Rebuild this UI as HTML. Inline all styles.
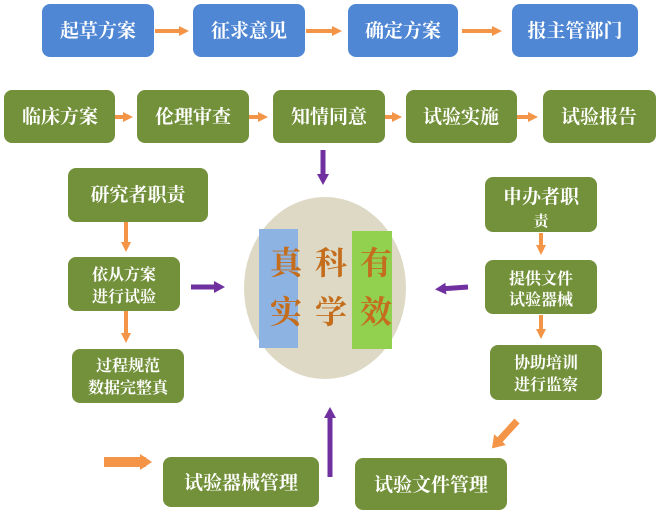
<!DOCTYPE html>
<html><head><meta charset="utf-8"><style>
body{margin:0;background:#fff;}
svg text{font-family:"Liberation Serif","Noto Serif CJK SC","Noto Sans CJK SC",serif;}
</style></head><body>
<svg width="661" height="515" xmlns="http://www.w3.org/2000/svg">
<defs>
<marker id="o" markerWidth="12" markerHeight="12" refX="6" refY="6" orient="auto" markerUnits="userSpaceOnUse"><path d="M0,1 L10,6 L0,11 z" fill="#f39447"/></marker>
<marker id="ob" markerWidth="20" markerHeight="20" refX="6" refY="10" orient="auto" markerUnits="userSpaceOnUse"><path d="M0,2 L12,10 L0,18 z" fill="#f39447"/></marker>
<marker id="p" markerWidth="14" markerHeight="14" refX="6" refY="7" orient="auto" markerUnits="userSpaceOnUse"><path d="M0,1 L11,7 L0,13 z" fill="#7030a0"/></marker>
</defs>
<g fill="#5087d4">
<rect x="42" y="4" width="112" height="53" rx="8"/>
<rect x="193" y="4" width="112" height="53" rx="8"/>
<rect x="348" y="4" width="110" height="53" rx="8"/>
<rect x="512" y="4" width="126" height="53" rx="8"/>
</g>
<g fill="#73913a">
<rect x="4" y="90" width="111" height="53" rx="8"/>
<rect x="137" y="90" width="112" height="53" rx="8"/>
<rect x="273" y="90" width="112" height="53" rx="8"/>
<rect x="406" y="90" width="111" height="53" rx="8"/>
<rect x="543" y="90" width="113" height="53" rx="8"/>
<rect x="68" y="168" width="140" height="54" rx="8"/>
<rect x="68" y="257" width="112" height="54" rx="8"/>
<rect x="72" y="349" width="112" height="54" rx="8"/>
<rect x="485" y="177" width="112" height="55" rx="8"/>
<rect x="485" y="260" width="112" height="54" rx="8"/>
<rect x="490" y="345" width="112" height="55" rx="8"/>
<rect x="163" y="457" width="156" height="50" rx="8"/>
<rect x="355" y="458" width="152" height="52" rx="8"/>
</g>
<g stroke="#f39447" stroke-width="4" fill="none">
<line x1="155" y1="31" x2="185" y2="31" marker-end="url(#o)"/>
<line x1="306" y1="31" x2="338" y2="31" marker-end="url(#o)"/>
<line x1="462" y1="31" x2="498" y2="31" marker-end="url(#o)"/>
<line x1="115" y1="117" x2="129" y2="117" marker-end="url(#o)"/>
<line x1="249" y1="117" x2="264" y2="117" marker-end="url(#o)"/>
<line x1="385" y1="117" x2="398" y2="117" marker-end="url(#o)"/>
<line x1="517" y1="117" x2="534" y2="117" marker-end="url(#o)"/>
<line x1="126" y1="222" x2="126" y2="248" marker-end="url(#o)"/>
<line x1="126" y1="311" x2="126" y2="339" marker-end="url(#o)"/>
<line x1="541" y1="233" x2="541" y2="251" marker-end="url(#o)"/>
<line x1="541" y1="315" x2="541" y2="335" marker-end="url(#o)"/>
<line x1="517" y1="421" x2="496" y2="444" stroke-width="7" marker-end="url(#ob)"/>
<line x1="104" y1="462" x2="146" y2="462" stroke-width="10" marker-end="url(#ob)"/>
</g>
<ellipse cx="325" cy="288" rx="81" ry="91" fill="#ddd9c4"/>
<rect x="259" y="229" width="39" height="119" fill="#8db3e2"/>
<rect x="352" y="231" width="40" height="118" fill="#92d050"/>
<g fill="#c46d1c" font-size="32" text-anchor="middle" font-weight="bold">
<text x="286" y="274">真</text><text x="286" y="323">实</text>
<text x="331" y="274">科</text><text x="331" y="323">学</text>
<text x="376" y="274">有</text><text x="376" y="323">效</text>
</g>
<g stroke="#7030a0" stroke-width="5" fill="none">
<line x1="323" y1="150" x2="323" y2="180" marker-end="url(#p)"/>
<line x1="191" y1="287" x2="220" y2="287" marker-end="url(#p)"/>
<line x1="468" y1="287" x2="440" y2="289" marker-end="url(#p)"/>
<line x1="330" y1="477" x2="330" y2="412" marker-end="url(#p)"/>
</g>
<g fill="#fff" font-size="19" text-anchor="middle" font-weight="bold">
<text x="98" y="37">起草方案</text>
<text x="249" y="37">征求意见</text>
<text x="403" y="37">确定方案</text>
<text x="575" y="37">报主管部门</text>
<text x="60" y="123">临床方案</text>
<text x="193" y="123">伦理审查</text>
<text x="329" y="123">知情同意</text>
<text x="461" y="123">试验实施</text>
<text x="599" y="123">试验报告</text>
<text x="138" y="201">研究者职责</text>
<text x="541" y="203">申办者职</text>
<text x="541" y="226" font-size="15">责</text>
<text x="241" y="489">试验器械管理</text>
<text x="431" y="491">试验文件管理</text>
</g>
<g fill="#fff" font-size="16" text-anchor="middle" font-weight="bold">
<text x="124" y="280">依从方案</text><text x="124" y="302">进行试验</text>
<text x="128" y="371">过程规范</text><text x="128" y="393">数据完整真</text>
<text x="541" y="284">提供文件</text><text x="541" y="305">试验器械</text>
<text x="546" y="368">协助培训</text><text x="546" y="390">进行监察</text>
</g>
</svg>
</body></html>
